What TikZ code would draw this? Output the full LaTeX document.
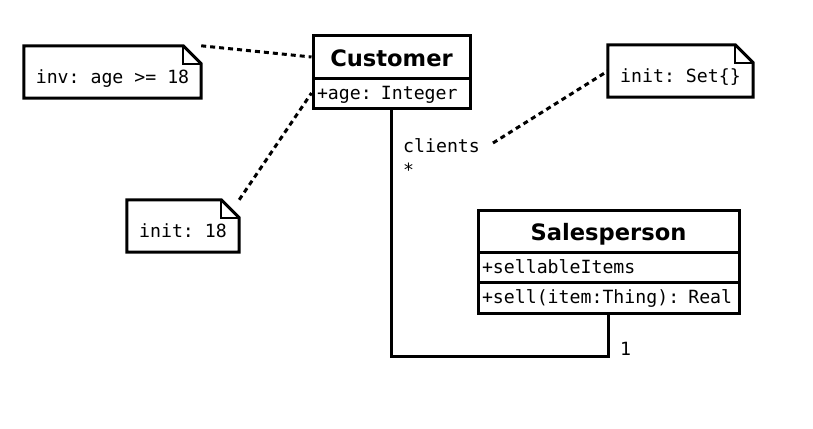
\documentclass[tikz,border=0pt]{standalone}
\usepackage{fontspec}
\setmainfont{DejaVu Sans}
\setmonofont{DejaVu Sans Mono}
\begin{document}
\begin{tikzpicture}[x=1pt,y=-1pt,
  box/.style={draw=black,line width=3pt,inner sep=0pt,fill=white},
  ttl/.style={box,font=\fontsize{22.6}{27}\selectfont\bfseries,text height=19pt,text depth=0pt},
  attr/.style={box,font=\fontsize{18.2}{21.8}\selectfont\ttfamily,text height=12pt,text depth=0pt,align=left,inner xsep=4pt},
  notebox/.style={inner sep=0pt,font=\fontsize{18.2}{21.8}\selectfont\ttfamily,text height=23pt,text depth=0pt},
  lbl/.style={inner sep=0pt,font=\fontsize{18.2}{21.8}\selectfont\ttfamily},
  noteline/.style={line width=3pt,line join=miter},
  dots/.style={line width=3pt,dash pattern=on 5pt off 4pt},
  assoc/.style={line width=3pt}]
\useasboundingbox (0,0) rectangle (813,428);
% classes
\node[ttl,minimum width=157pt,minimum height=42pt] (cust) at (391.5,57) {Customer};
\node[attr,text width=149pt,minimum height=30pt] (custa) at (391.5,93) {+age: Integer};
\node[ttl,minimum width=261pt,minimum height=42pt] (sp) at (608.5,231) {Salesperson};
\node[attr,text width=253pt,minimum height=30pt] (spa) at (608.5,267) {+sellableItems};
\node[attr,text width=253pt,minimum height=31pt] (spo) at (608.5,297.5) {+sell(item:Thing): Real};
% notes
\node[notebox,minimum width=177pt,minimum height=52pt] (n1) at (112.5,72) {inv: age >= 18};
\node[notebox,minimum width=112pt,minimum height=52pt] (n2) at (183,226) {init: 18};
\node[notebox,minimum width=145pt,minimum height=52pt] (n3) at (680.5,71) {init: Set\{\}};
\foreach \n in {n1,n2,n3}{
  \draw[noteline] (\n.north west) -- ([xshift=-18pt]\n.north east) -- ([yshift=-18pt]\n.north east) -- (\n.south east) -- (\n.south west) -- cycle;
  \draw[line width=2pt] ([xshift=-18pt]\n.north east) |- ([yshift=-18pt]\n.north east);
}
% association
\draw[assoc] (custa.south) -- ++(0,247) -| (spo.south);
\node[lbl,anchor=base west] (rolec) at (403,152) {clients};
\node[lbl,anchor=base west] (multc) at (403,176) {*};
\node[lbl,anchor=base west] (mults) at (620,355) {1};
\coordinate (assocpt) at (493,143);
% note connectors
\draw[dots] (n1.north east) -- (cust.west);
\draw[dots] (n2.north east) -- (custa.west);
\draw[dots] (assocpt) -- (n3.west);
\end{tikzpicture}
\end{document}
